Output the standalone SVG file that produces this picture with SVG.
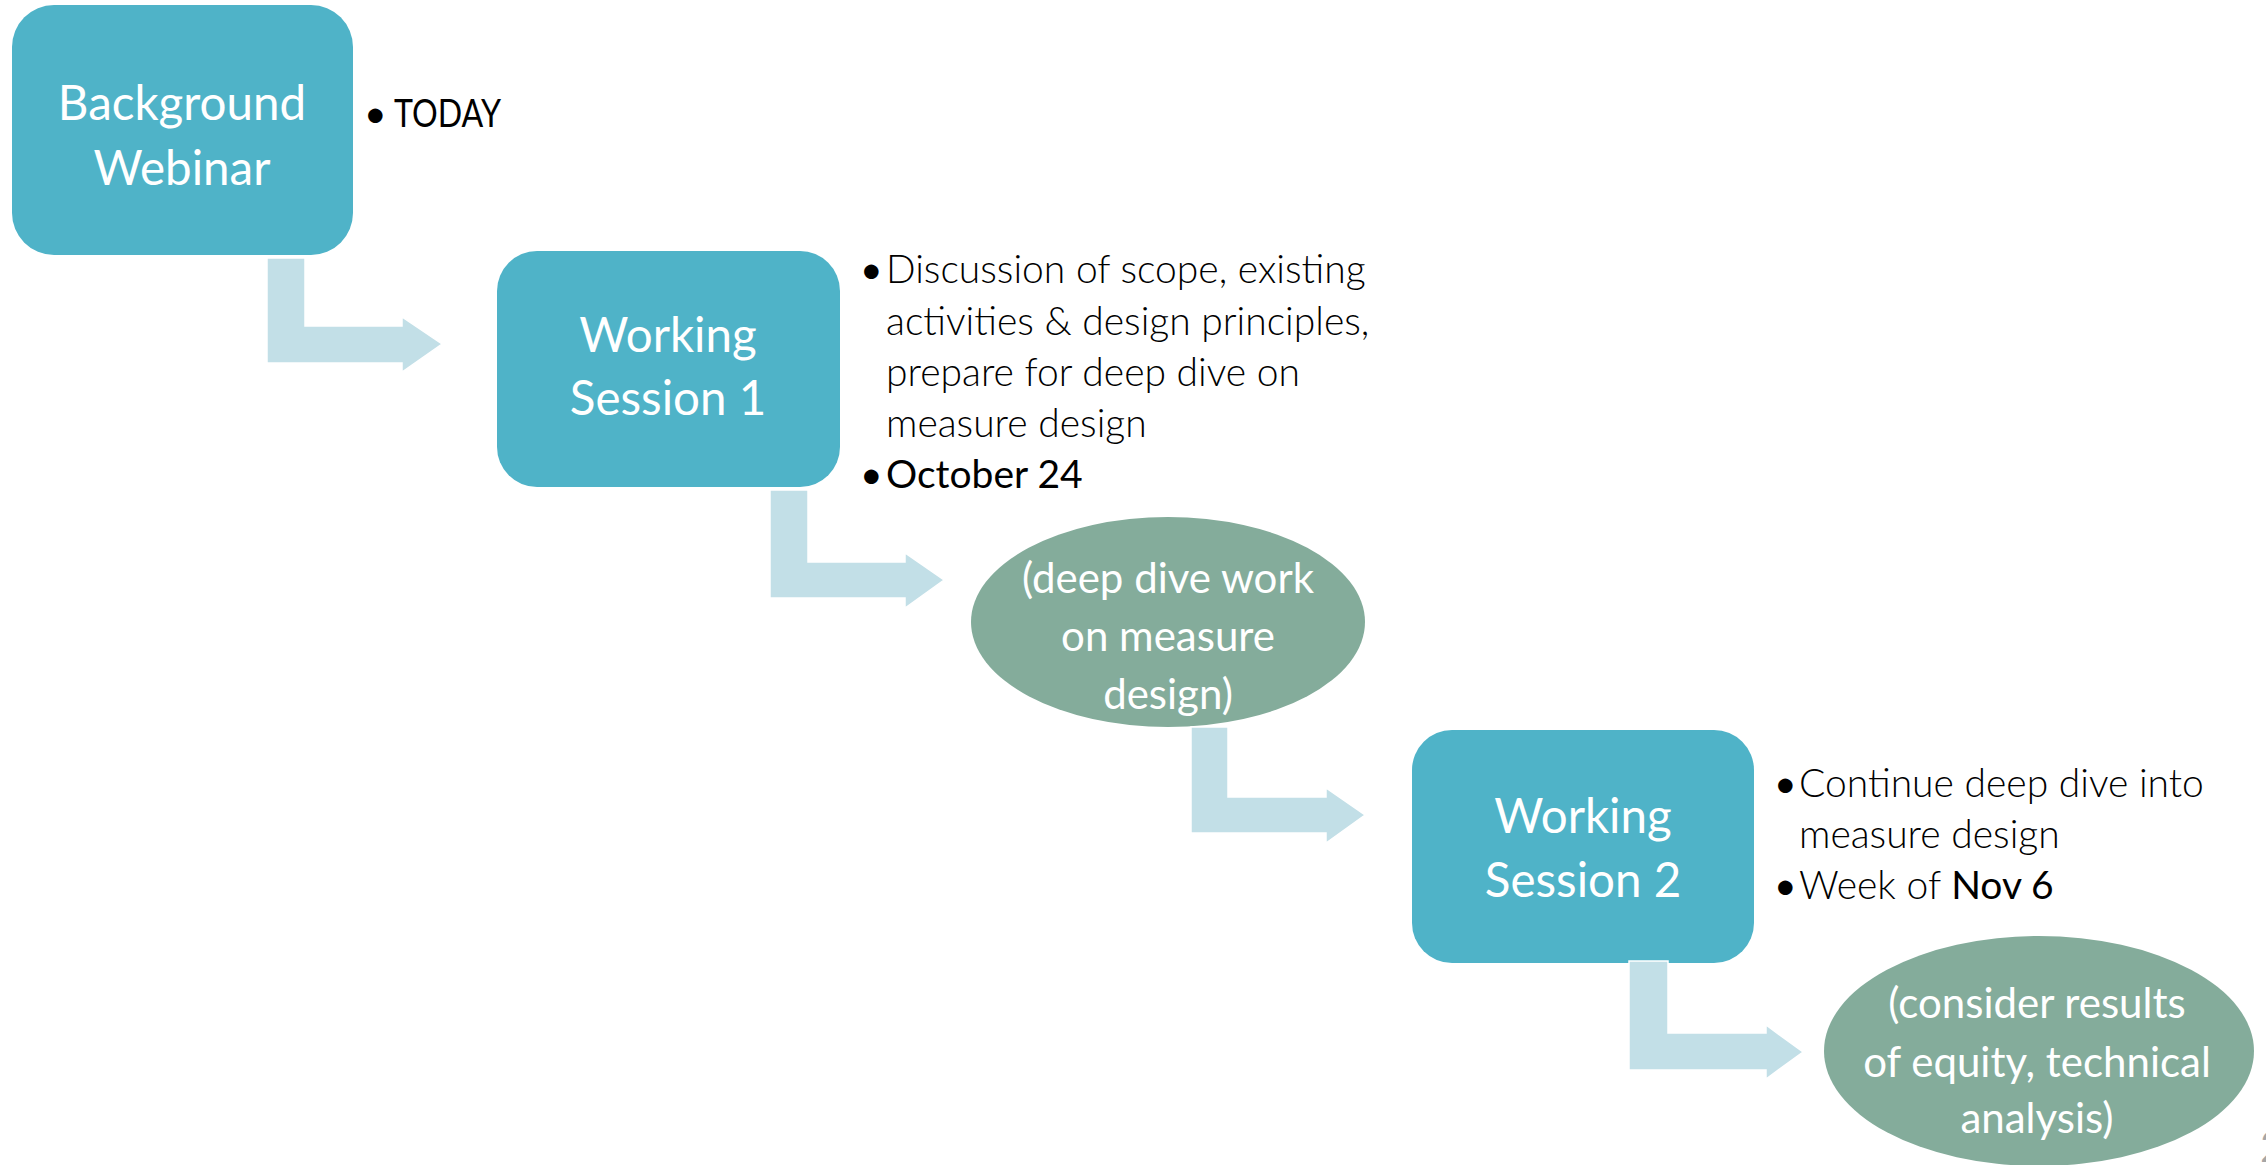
<svg xmlns="http://www.w3.org/2000/svg" width="2266" height="1165" viewBox="0 0 2266 1165">
<style>
.box{fill:#4FB3C8;}
.oval{fill:#84AC9B;}
.arrow{fill:#C2DFE7;stroke:#FFFFFF;stroke-width:1.5;}
.lbl{font-family:Lato,"Open Sans","Liberation Sans",sans-serif;fill:#FFFFFF;text-anchor:middle;}
.big{font-size:47.5px;}
.mid{font-size:42px;}
.bt{font-family:Lato,"Open Sans","Liberation Sans",sans-serif;font-size:39px;fill:#000000;font-weight:300;}
.b{font-weight:400;}
</style>
<rect width="2266" height="1165" fill="#FFFFFF"/>
<g id="node-background-webinar">
<rect class="box" x="12" y="5" width="341" height="250" rx="42" ry="42"/>
<text class="lbl big" x="182" y="120">Background</text>
<text class="lbl big" x="182" y="185">Webinar</text>
<text class="bt b" x="364" y="127">•</text>
<text class="bt b" x="394" y="127" textLength="107" lengthAdjust="spacingAndGlyphs">TODAY</text>
</g>
<g id="node-working-session-1">
<rect class="box" x="497" y="251" width="343" height="236" rx="40" ry="40"/>
<text class="lbl big" x="668" y="352">Working</text>
<text class="lbl big" x="668" y="415">Session 1</text>
<text class="bt b" x="860" y="283">•</text>
<text class="bt" x="886" y="283">Discussion of scope, existing</text>
<text class="bt" x="886" y="335">activities &amp; design principles,</text>
<text class="bt" x="886" y="386">prepare for deep dive on</text>
<text class="bt" x="886" y="437">measure design</text>
<text class="bt b" x="860" y="488">•</text>
<text class="bt b" x="886" y="488">October 24</text>
</g>
<g id="node-deep-dive">
<ellipse class="oval" cx="1168" cy="622" rx="197" ry="105"/>
<text class="lbl mid" x="1168" y="593">(deep dive work</text>
<text class="lbl mid" x="1168" y="651">on measure</text>
<text class="lbl mid" x="1168" y="709">design)</text>
</g>
<g id="node-working-session-2">
<rect class="box" x="1412" y="730" width="342" height="233" rx="40" ry="40"/>
<text class="lbl big" x="1583" y="833">Working</text>
<text class="lbl big" x="1583" y="897">Session 2</text>
<text class="bt b" x="1774" y="797">•</text>
<text class="bt" x="1799" y="797">Continue deep dive into</text>
<text class="bt" x="1799" y="848">measure design</text>
<text class="bt b" x="1774" y="899">•</text>
<text class="bt" x="1799" y="899">Week of <tspan class="b">Nov 6</tspan></text>
</g>
<g id="node-consider-results">
<ellipse class="oval" cx="2039" cy="1051" rx="215" ry="115"/>
<text class="lbl mid" x="2037" y="1018">(consider results</text>
<text class="lbl mid" x="2037" y="1077">of equity, technical</text>
<text class="lbl mid" x="2037" y="1133">analysis)</text>
</g>
<g id="connectors">
<path class="arrow" d="M267 258 H305 V326 H402 V317 L442 344 L402 372 V363 H267 Z"/>
<path class="arrow" d="M770 490 H808 V562 H905 V553 L944 580 L905 608 V598 H770 Z"/>
<path class="arrow" d="M1191 727 H1228 V797 H1326 V788 L1365 815 L1326 843 V833 H1191 Z"/>
<path class="arrow" d="M1629 961 H1668 V1033 H1766 V1025 L1803 1052 L1766 1079 V1070 H1629 Z"/>
</g>
<text x="2260" y="1162" font-family="Lato,'Liberation Sans',sans-serif" font-size="42" fill="#A6A6A6">2</text>
</svg>
